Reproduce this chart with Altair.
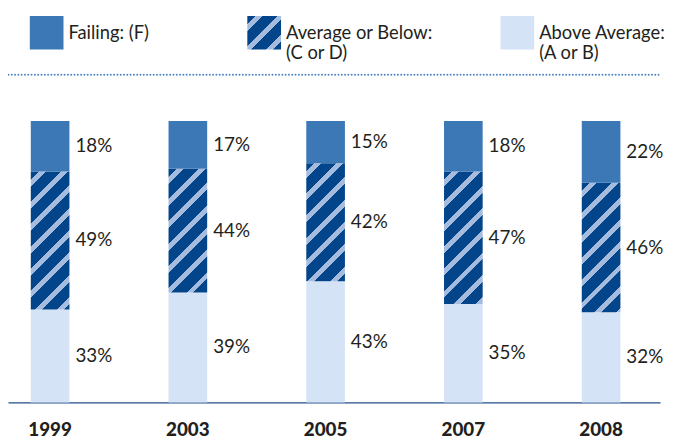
import math
import altair as alt
import pandas as pd

# ---------------- data ----------------
years = ["1999", "2003", "2005", "2007", "2008"]
failing = [18, 17, 15, 18, 22]
average_or_below = [49, 44, 42, 47, 46]
above_average = [33, 39, 43, 35, 32]

legend_keys = ["F", "CD", "AB"]
legend_labels = ["Failing: (F)", "Average or Below:\n(C or D)", "Above Average:\n(A or B)"]

# ---------------- style ----------------
FONT = "Lato"
TEXT = "#231f20"
C_F = "#3c78b6"
C_DARK = "#03458b"
C_STRIPE = "#a6bcdf"
C_AB = "#d4e3f5"
C_BASE = "#1f4d8a"
C_DOT = "#4f86c6"

W = 658        # panel width
H = 284        # main plot height
HL = 46        # legend panel height
BAR_W = 39
STEP = 139
FIRST_BAR = 23
SW = 34        # legend swatch side

# band scale parameters (bar width / spacing)
pin = 1 - BAR_W / STEP
pout = (W / STEP - len(years) + pin) / 2
align_main = FIRST_BAR / (STEP * 2 * pout)

# legend point scale parameters (+ per-entry nudges)
L_FIRST, L_LAST = 39, 514
l_step = (L_LAST - L_FIRST) / 2
l_pad = (W / l_step - 2) / 2
l_align = L_FIRST / (l_step * 2 * l_pad)
legend_nudge = [0, -18, 0]

# hatching
PERIOD = 22.5
LIGHT = 7.0
PHASE = 8.0


def stripes(w, h):
    L = w + h
    r = h / w
    p = L / (w * (1 + r * r))
    q = p * r

    def color_at(d):
        return C_STRIPE if ((d - PHASE) % PERIOD) < LIGHT else C_DARK

    cur = color_at(0)
    stops = [alt.GradientStop(offset=0, color=cur)]
    b = PHASE + math.floor(-PHASE / PERIOD) * PERIOD
    while b < L:
        for e, c in ((b, C_STRIPE), (b + LIGHT, C_DARK)):
            if 0 < e < L:
                off = round(e / L, 5)
                stops.append(alt.GradientStop(offset=off, color=cur))
                stops.append(alt.GradientStop(offset=off, color=c))
                cur = c
        b += PERIOD
    stops.append(alt.GradientStop(offset=1, color=cur))
    return alt.LinearGradient(gradient="linear", stops=stops,
                              x1=0, y1=0, x2=round(p, 6), y2=round(q, 6))


rows = []
for i, yr in enumerate(years):
    a, m, f = above_average[i], average_or_below[i], failing[i]
    for seg, lo, hi, v in (("AB", 0, a, a), ("CD", a, a + m, m), ("F", a + m, a + m + f, f)):
        rows.append(dict(year=yr, seg=seg, lo=lo, hi=hi, mid=(lo + hi) / 2, label=f"{v}%"))
df = pd.DataFrame(rows)

# ---------------- main panel ----------------
x_enc = alt.X(
    "year:N",
    sort=years,
    scale=alt.Scale(domain=years, paddingInner=pin, paddingOuter=pout, align=align_main),
    axis=alt.Axis(title=None, labelFont=FONT, labelFontSize=19, labelFontWeight=900,
                  labelColor=TEXT, labelAngle=0, labelBaseline="alphabetic", labelPadding=33,
                  ticks=False, tickSize=0, grid=False, domainColor=C_BASE, domainWidth=1.5),
)
y_scale = alt.Scale(domain=[0, 100], nice=False, zero=True)

base = alt.Chart(df)
bar_ab = base.transform_filter(alt.datum.seg == "AB").mark_bar(color=C_AB).encode(
    x=x_enc, y=alt.Y("lo:Q", scale=y_scale, axis=None), y2="hi:Q")
bar_f = base.transform_filter(alt.datum.seg == "F").mark_bar(color=C_F).encode(
    x=x_enc, y=alt.Y("lo:Q", scale=y_scale, axis=None), y2="hi:Q")
mids = []
for i, yr in enumerate(years):
    hpx = average_or_below[i] / 100 * H
    mids.append(
        base.transform_filter((alt.datum.seg == "CD") & (alt.datum.year == yr))
        .mark_bar(color=stripes(BAR_W, hpx))
        .encode(x=x_enc, y=alt.Y("lo:Q", scale=y_scale, axis=None), y2="hi:Q")
    )
txt = base.mark_text(align="left", baseline="middle", dx=BAR_W / 2 + 6, font=FONT,
                     fontSize=19, color=TEXT).encode(
    x=x_enc, y=alt.Y("mid:Q", scale=y_scale, axis=None), text="label:N")

main = alt.layer(bar_ab, *mids, bar_f, txt).properties(width=W, height=H)

# ---------------- legend panel ----------------
leg_df = pd.DataFrame({"key": legend_keys, "label": legend_labels})
lx = alt.X(
    "key:N",
    sort=legend_keys,
    scale=alt.Scale(type="point", domain=legend_keys, padding=l_pad, align=l_align),
    axis=alt.Axis(title=None, labels=False, ticks=False, tickSize=0, grid=False,
                  domainColor=C_DOT, domainWidth=2, domainDash=[0, 3.33], domainCap="round",
                  offset=19),
)
lbase = alt.Chart(leg_df)
legend_layers = []
for k, c, nudge in zip(legend_keys, [C_F, stripes(SW, SW), C_AB], legend_nudge):
    part = lbase.transform_filter(alt.datum.key == k)
    legend_layers.append(
        part.mark_square(size=SW * SW, color=c, opacity=1, strokeWidth=0, xOffset=nudge)
        .encode(x=lx)
    )
    legend_layers.append(
        part.mark_text(align="left", baseline="middle", dx=SW / 2 + 5 + nudge, font=FONT,
                       fontSize=18.5, lineHeight=20.5, lineBreak="\n", color=TEXT)
        .encode(x=lx, text="label:N")
    )
legend = alt.layer(*legend_layers).properties(width=W, height=HL)

chart = (
    alt.vconcat(legend, main, spacing=47)
    .properties(padding=0)
    .configure_view(stroke=None)
)

chart.save("out.html", embed_options={"renderer": "svg", "actions": False})
